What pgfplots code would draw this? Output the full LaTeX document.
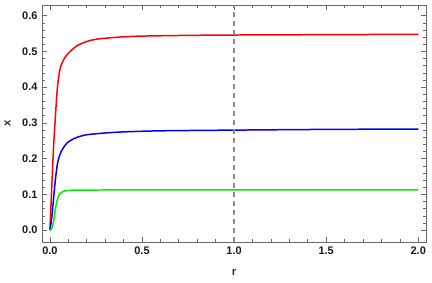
\documentclass[border=0pt]{standalone}
\usepackage{fontspec}
\setmainfont{Liberation Sans}
\newfontfamily\lbold{Liberation Sans Bold}
\usepackage{pgfplots}
\pgfplotsset{compat=1.18}
\definecolor{framegray}{RGB}{105,105,105}
\definecolor{dashgray}{RGB}{140,140,140}
\definecolor{mgreen}{RGB}{0,240,0}
\begin{document}
\begin{tikzpicture}
\begin{axis}[
  name=ax,
  scale only axis,
  width=384bp, height=237bp,
  xmin=-0.043, xmax=2.042,
  ymin=-0.033, ymax=0.630,
  axis line style={framegray, line width=0.9pt},
  tick style={framegray, line width=0.7pt},
  tick align=inside,
  major tick length=5bp,
  minor tick length=3bp,
  xtick={0,0.5,1,1.5,2},
  minor xtick={0.1,0.2,0.3,0.4,0.6,0.7,0.8,0.9,1.1,1.2,1.3,1.4,1.6,1.7,1.8,1.9},
  ytick={0,0.1,0.2,0.3,0.4,0.5,0.6},
  minor y tick num=4,
  /pgf/number format/fixed,
  /pgf/number format/fixed zerofill,
  /pgf/number format/precision=1,
  /pgf/number format/assume math mode=true,
  ticklabel style={font=\lbold\fontsize{11}{13}\selectfont, text=black!90},
  xticklabel style={yshift=-1bp},
  yticklabel style={xshift=-1bp},
  xlabel={r}, ylabel={x},
  label style={font=\lbold\fontsize{11.5}{13}\selectfont, text=black!80},
  xlabel style={at={(axis description cs:0.5,-0.1266)}, anchor=center},
  ylabel style={at={(axis description cs:-0.0898,0.5)}, anchor=center},
  clip=true,
]
\addplot[red, line width=1.5pt, smooth] coordinates {
(0,0) (0.01,0.12) (0.02,0.235) (0.03,0.32) (0.04,0.395) (0.05,0.437) (0.06,0.46) (0.08,0.482) (0.1,0.495) (0.125,0.507) (0.15,0.517) (0.2,0.528) (0.25,0.534) (0.3,0.537) (0.4,0.541) (0.5,0.543) (0.75,0.545) (1,0.546) (1.5,0.547) (2,0.548)
};
\addplot[blue, line width=1.5pt, smooth] coordinates {
(0,0) (0.01,0.035) (0.02,0.09) (0.03,0.143) (0.04,0.183) (0.05,0.205) (0.06,0.219) (0.08,0.236) (0.1,0.247) (0.13,0.256) (0.16,0.262) (0.2,0.267) (0.3,0.272) (0.4,0.275) (0.6,0.278) (1,0.280) (1.5,0.282) (2,0.283)
};
\addplot[mgreen, line width=1.5pt, smooth] coordinates {
(0,0) (0.01,0.005) (0.02,0.025) (0.03,0.06) (0.04,0.085) (0.05,0.099) (0.06,0.105) (0.08,0.110) (0.1,0.1115) (0.15,0.112) (0.3,0.1125) (1,0.113) (2,0.113)
};
\addplot[dashgray, line width=1.3pt, dash pattern=on 5bp off 4bp] coordinates {(1,-0.033) (1,0.630)};
\end{axis}
\pgfresetboundingbox
\path (ax.south west) +(-42bp,-41bp) (ax.north east) +(6bp,5bp);
\end{tikzpicture}
\end{document}
